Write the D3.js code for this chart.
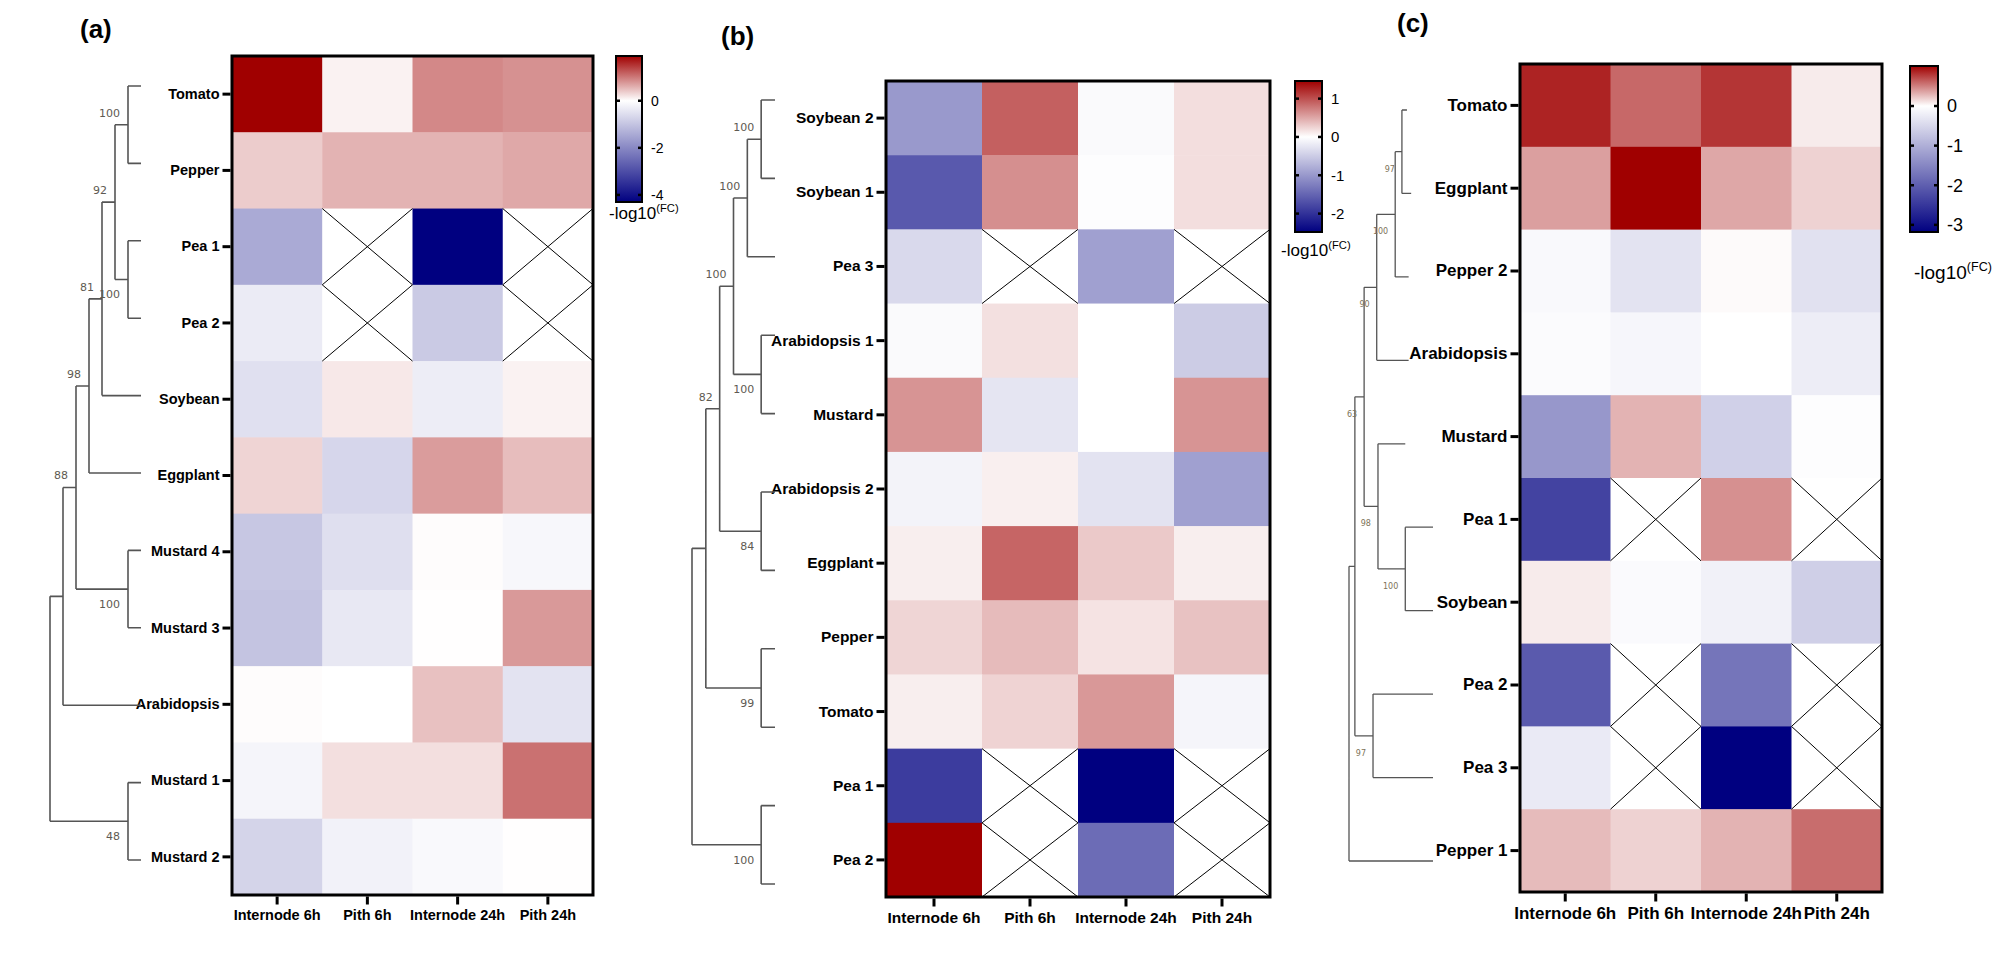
<!DOCTYPE html>
<html lang="en">
<head>
<meta charset="UTF-8">
<title>Heatmaps with dendrograms</title>
<style>
  body { margin: 0; background: #fff; }
  svg { display: block; font-family: 'Liberation Sans', Arial, sans-serif; }
  .axis path.domain { display: none; }
  .axis text { font-weight: bold; fill: #000; }
  .bar-axis text { font-weight: normal; fill: #000; }
  .branch { stroke: #555; fill: none; }
  .boot { font-family: 'DejaVu Sans', sans-serif; }
</style>
</head>
<body>
<svg id="chart"></svg>
<script src="https://d3js.org/d3.v7.min.js"></script>
<script>
// Data
const columns = ['Internode 6h', 'Pith 6h', 'Internode 24h', 'Pith 24h'];

const rowsA = ['Tomato', 'Pepper', 'Pea 1', 'Pea 2', 'Soybean', 'Eggplant',
  'Mustard 4', 'Mustard 3', 'Arabidopsis', 'Mustard 1', 'Mustard 2'];
const valuesA = [
  [1.9, 0.1, 0.89, 0.82],
  [0.38, 0.57, 0.57, 0.65],
  [-1.43, null, -4.3, null],
  [-0.34, null, -0.9, null],
  [-0.52, 0.17, -0.3, 0.1],
  [0.32, -0.69, 0.74, 0.49],
  [-0.94, -0.54, 0.02, -0.13],
  [-1.0, -0.39, 0.01, 0.76],
  [0.02, 0, 0.46, -0.47],
  [-0.17, 0.24, 0.24, 1.06],
  [-0.73, -0.22, -0.1, 0.01]
];
// merges: [node, child 1, child 2, depth, bootstrap]
const treeA = [
  ['a1', 'Tomato', 'Pepper', 6, 100],
  ['a2', 'Pea 1', 'Pea 2', 6, 100],
  ['a3', 'a1', 'a2', 5, 92],
  ['a4', 'a3', 'Soybean', 4, 81],
  ['a5', 'a4', 'Eggplant', 3, 98],
  ['a6', 'Mustard 4', 'Mustard 3', 6, 100],
  ['a7', 'a5', 'a6', 2, 88],
  ['a8', 'a7', 'Arabidopsis', 1, null],
  ['a9', 'Mustard 1', 'Mustard 2', 6, 48],
  ['a10', 'a8', 'a9', 0, null]
];
const leafDepthA = [7, 7, 7, 7, 7, 7, 7, 7, 7, 7, 7];
const ticksA = [0, -2, -4];

const rowsB = ['Soybean 2', 'Soybean 1', 'Pea 3', 'Arabidopsis 1', 'Mustard',
  'Arabidopsis 2', 'Eggplant', 'Pepper', 'Tomato', 'Pea 1', 'Pea 2'];
const valuesB = [
  [-0.99, 0.91, -0.05, 0.19],
  [-1.61, 0.64, -0.02, 0.19],
  [-0.37, null, -0.92, null],
  [-0.05, 0.18, 0, -0.5],
  [0.61, -0.25, 0, 0.61],
  [-0.12, 0.09, -0.27, -0.92],
  [0.1, 0.88, 0.31, 0.1],
  [0.24, 0.39, 0.16, 0.35],
  [0.1, 0.25, 0.59, -0.1],
  [-1.9, null, -2.48, null],
  [1.46, null, -1.43, null]
];
const treeB = [
  ['b1', 'Soybean 2', 'Soybean 1', 5, 100],
  ['b2', 'b1', 'Pea 3', 4, 100],
  ['b3', 'Arabidopsis 1', 'Mustard', 5, 100],
  ['b4', 'b2', 'b3', 3, 100],
  ['b5', 'Arabidopsis 2', 'Eggplant', 5, 84],
  ['b6', 'b4', 'b5', 2, 82],
  ['b7', 'Pepper', 'Tomato', 5, 99],
  ['b8', 'b6', 'b7', 1, null],
  ['b9', 'Pea 1', 'Pea 2', 5, 100],
  ['b10', 'b8', 'b9', 0, null]
];
const leafDepthB = [6, 6, 6, 6, 6, 6, 6, 6, 6, 6, 6];
const ticksB = [1, 0, -1, -2];

const rowsC = ['Tomato', 'Eggplant', 'Pepper 2', 'Arabidopsis', 'Mustard',
  'Pea 1', 'Soybean', 'Pea 2', 'Pea 3', 'Pepper 1'];
const valuesC = [
  [0.87, 0.6, 0.8, 0.08],
  [0.38, 1.01, 0.35, 0.18],
  [-0.08, -0.35, 0.02, -0.38],
  [-0.05, -0.11, 0, -0.22],
  [-1.3, 0.3, -0.58, -0.03],
  [-2.35, null, 0.44, null],
  [0.08, -0.06, -0.17, -0.6],
  [-2.06, null, -1.72, null],
  [-0.26, null, -3.18, null],
  [0.27, 0.18, 0.3, 0.58]
];
const treeC = [
  ['c1', 'Tomato', 'Eggplant', 0.63, 97],
  ['c2', 'c1', 'Pepper 2', 0.55, 100],
  ['c3', 'c2', 'Arabidopsis', 0.33, 90],
  ['c4', 'Pea 1', 'Soybean', 0.67, 100],
  ['c5', 'Mustard', 'c4', 0.345, 98],
  ['c6', 'c3', 'c5', 0.18, 63],
  ['c7', 'Pea 2', 'Pea 3', 0.286, 97],
  ['c8', 'c6', 'c7', 0.07, null],
  ['c9', 'c8', 'Pepper 1', 0, null]
];
const leafDepthC = [0.69, 0.74, 0.71, 0.71, 0.67, 1, 1, 1, 1, 1];
const ticksC = [0, -1, -2, -3];

// Layout per panel
const panels = [
  { tag: '(a)', tagX: 80, tagY: 38, rows: rowsA, values: valuesA, tree: treeA, leafDepth: leafDepthA, ticks: ticksA,
    heat: { x0: 232, x1: 593, y0: 56, y1: 895 }, font: 14.5,
    tree_: { x0: 50, x1: 141, y0: 86, y1: 860, maxDepth: 7, boot: 'side', bootFont: 11, bootDx: 8, width: 1.6, bootColor: '#5e5a52' },
    bar: { x: 616, w: 26, y0: 56, y1: 202, font: 14 }, legend: { x: 609, y: 219, font: 17 } },
  { tag: '(b)', tagX: 721, tagY: 45, rows: rowsB, values: valuesB, tree: treeB, leafDepth: leafDepthB, ticks: ticksB,
    heat: { x0: 886, x1: 1270, y0: 81, y1: 897 }, font: 15.5,
    tree_: { x0: 692, x1: 775, y0: 100, y1: 884, maxDepth: 6, boot: 'side', bootFont: 11, bootDx: 7, width: 1.6, bootColor: '#5e5a52' },
    bar: { x: 1295, w: 27, y0: 81, y1: 232, font: 15 }, legend: { x: 1281, y: 256, font: 17 } },
  { tag: '(c)', tagX: 1397, tagY: 32, rows: rowsC, values: valuesC, tree: treeC, leafDepth: leafDepthC, ticks: ticksC,
    heat: { x0: 1520, x1: 1882, y0: 64, y1: 892 }, font: 17,
    tree_: { x0: 1349, x1: 1433, y0: 110, y1: 861, maxDepth: 1, boot: 'below', bootFont: 8, bootDx: 7, width: 1.3, bootColor: '#7d7258' },
    bar: { x: 1910, w: 28, y0: 66, y1: 232, font: 18 }, legend: { x: 1914, y: 279, font: 19 } }
];

const svg = d3.select('#chart').attr('width', 2000).attr('height', 966);
svg.append('rect').attr('width', 2000).attr('height', 966).attr('fill', '#fff');

panels.forEach((p, pi) => {
  const g = svg.append('g');
  const flat = p.values.flat().filter(v => v !== null);
  const [vmin, vmax] = d3.extent(flat);
  const color = d3.scaleLinear().domain([vmin, 0, vmax]).range(['#000080', '#ffffff', '#a00000']);

  // panel tag
  g.append('text').attr('x', p.tagX).attr('y', p.tagY)
    .attr('font-size', 26).attr('font-weight', 'bold').text(p.tag);

  // heatmap
  const x = d3.scaleBand().domain(columns).range([p.heat.x0, p.heat.x1]);
  const y = d3.scaleBand().domain(p.rows).range([p.heat.y0, p.heat.y1]);
  const cells = [];
  p.values.forEach((r, i) => r.forEach((v, j) => cells.push({ row: p.rows[i], col: columns[j], v })));

  g.selectAll('rect.cell').data(cells).join('rect')
    .attr('class', 'cell')
    .attr('x', d => x(d.col)).attr('y', d => y(d.row))
    .attr('width', x.bandwidth() + 0.5).attr('height', y.bandwidth() + 0.5)
    .attr('fill', d => d.v === null ? '#fff' : color(d.v));

  const na = cells.filter(d => d.v === null);
  g.selectAll('path.na').data(na).join('path')
    .attr('class', 'na')
    .attr('d', d => {
      const x0 = x(d.col), y0 = y(d.row), w = x.bandwidth(), h = y.bandwidth();
      return `M${x0},${y0}L${x0 + w},${y0 + h}M${x0 + w},${y0}L${x0},${y0 + h}`;
    })
    .attr('stroke', '#000').attr('stroke-width', 1).attr('fill', 'none');

  g.append('rect')
    .attr('x', p.heat.x0).attr('y', p.heat.y0)
    .attr('width', p.heat.x1 - p.heat.x0).attr('height', p.heat.y1 - p.heat.y0)
    .attr('fill', 'none').attr('stroke', '#000').attr('stroke-width', 3);

  const yAxis = g.append('g').attr('class', 'axis')
    .attr('transform', `translate(${p.heat.x0 - 1.5},0)`)
    .call(d3.axisLeft(y).tickSize(8).tickPadding(3));
  yAxis.selectAll('line').attr('stroke-width', 3);
  yAxis.selectAll('text').attr('font-size', p.font);

  const xAxis = g.append('g').attr('class', 'axis')
    .attr('transform', `translate(0,${p.heat.y1 + 1.5})`)
    .call(d3.axisBottom(x).tickSize(8).tickPadding(5));
  xAxis.selectAll('line').attr('stroke-width', 3);
  xAxis.selectAll('text').attr('font-size', p.font);

  // colour bar
  const b = p.bar;
  const by = d3.scaleLinear().domain([vmax, vmin]).range([b.y0, b.y1]);
  const gid = 'grad' + pi;
  const grad = svg.append('defs').append('linearGradient').attr('id', gid)
    .attr('x1', 0).attr('y1', 0).attr('x2', 0).attr('y2', 1);
  [vmax, 0, vmin].forEach(v => {
    grad.append('stop').attr('offset', (by(v) - b.y0) / (b.y1 - b.y0)).attr('stop-color', color(v));
  });
  g.append('rect').attr('x', b.x).attr('y', b.y0).attr('width', b.w).attr('height', b.y1 - b.y0)
    .attr('fill', `url(#${gid})`).attr('stroke', '#000').attr('stroke-width', 2);
  p.ticks.forEach(t => {
    g.append('line').attr('x1', b.x).attr('x2', b.x + 4).attr('y1', by(t)).attr('y2', by(t))
      .attr('stroke', '#000').attr('stroke-width', 2.5);
    g.append('line').attr('x1', b.x + b.w - 4).attr('x2', b.x + b.w).attr('y1', by(t)).attr('y2', by(t))
      .attr('stroke', '#000').attr('stroke-width', 2.5);
  });
  const bAxis = g.append('g').attr('class', 'bar-axis')
    .attr('transform', `translate(${b.x + b.w},0)`)
    .call(d3.axisRight(by).tickValues(p.ticks).tickSize(0).tickPadding(9).tickFormat(d => String(d)));
  bAxis.select('.domain').remove();
  bAxis.selectAll('text').attr('font-size', b.font);

  const lg = g.append('text').attr('x', p.legend.x).attr('y', p.legend.y).attr('font-size', p.legend.font);
  lg.append('tspan').text('-log10');
  lg.append('tspan').attr('dy', -p.legend.font * 0.42).attr('font-size', p.legend.font * 0.66).text('(FC)');

  // dendrogram
  const t = p.tree_;
  const tx = d3.scaleLinear().domain([0, t.maxDepth]).range([t.x0, t.x1]);
  const ty = d3.scalePoint().domain(p.rows).range([t.y0, t.y1]);
  const nodes = {};
  p.rows.forEach((r, i) => { nodes[r] = { x: tx(p.leafDepth[i]), y: ty(r) }; });
  p.tree.forEach(([id, c1, c2, depth, boot]) => {
    const a = nodes[c1], c = nodes[c2];
    const upper = a.y < c.y ? a : c, lower = a.y < c.y ? c : a;
    upper.side = 'above'; lower.side = 'below';
    nodes[id] = { x: tx(depth), y: (a.y + c.y) / 2, kids: [a, c], boot };
  });
  const path = d3.path();
  p.tree.forEach(([id]) => {
    const n = nodes[id];
    const ys = n.kids.map(k => k.y);
    path.moveTo(n.x, Math.min(...ys)); path.lineTo(n.x, Math.max(...ys));
    n.kids.forEach(k => { path.moveTo(n.x, k.y); path.lineTo(k.x, k.y); });
  });
  g.append('path').attr('class', 'branch').attr('d', path.toString()).attr('stroke-width', t.width);

  p.tree.forEach(([id]) => {
    const n = nodes[id];
    if (n.boot === null) return;
    const side = t.boot === 'below' ? 'below' : n.side;
    const yy = side === 'above' ? n.y - 12 + t.bootFont * 0.36 : n.y + (t.boot === 'below' ? 17 : 15) + t.bootFont * 0.36;
    g.append('text').attr('class', 'boot')
      .attr('x', n.x - t.bootDx).attr('y', yy)
      .attr('text-anchor', 'end').attr('font-size', t.bootFont)
      .attr('fill', t.bootColor)
      .text(n.boot);
  });
});
</script>
</body>
</html>
